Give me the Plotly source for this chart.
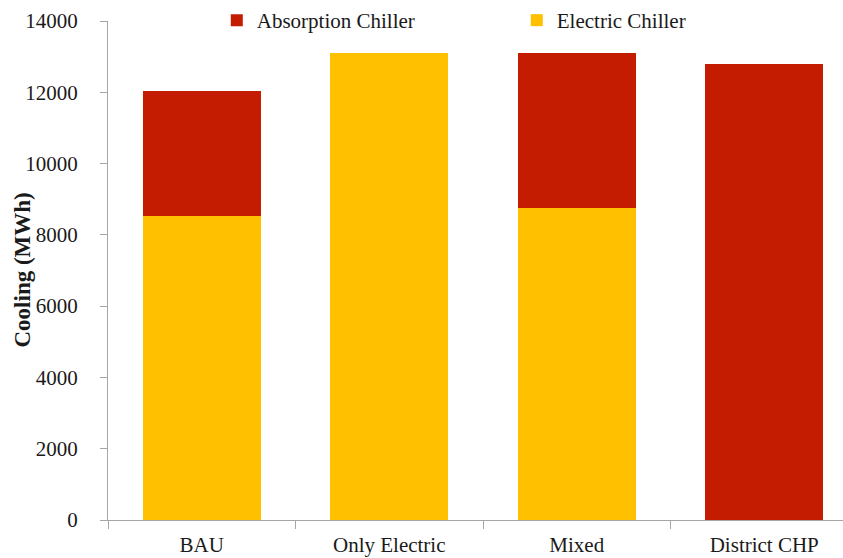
import plotly.graph_objects as go

# Annual cooling supplied per scenario (MWh)
scenarios = ["BAU", "Only Electric", "Mixed", "District CHP"]
electric_chiller = [8520, 13110, 8760, 0]
absorption_chiller = [3530, 0, 4350, 12790]

RED = "#C41C00"
YELLOW = "#FFC000"
AXIS_GREY = "#A6A6A6"
FONT = "Liberation Serif"
TEXT = "#1a1a1a"

fig = go.Figure()
fig.add_trace(go.Bar(
    x=scenarios, y=electric_chiller, name="Electric Chiller",
    marker=dict(color=YELLOW, line=dict(width=0)), width=0.63,
))
fig.add_trace(go.Bar(
    x=scenarios, y=absorption_chiller, name="Absorption Chiller",
    marker=dict(color=RED, line=dict(width=0)), width=0.63,
))

fig.update_layout(
    width=843, height=558,
    barmode="stack",
    plot_bgcolor="white", paper_bgcolor="white",
    margin=dict(l=108, r=0, t=20, b=38),
    font=dict(family=FONT, size=21, color=TEXT),
    showlegend=True,
    legend=dict(
        orientation="h", traceorder="reversed",
        x=0.148, xanchor="left", y=1.0, yanchor="middle",
        font=dict(family=FONT, size=21, color=TEXT),
        bgcolor="rgba(0,0,0,0)", entrywidth=255, itemwidth=30,
    ),
    xaxis=dict(
        range=[-0.5, 3.42],
        showline=True, linecolor=AXIS_GREY, linewidth=1,
        ticks="outside", tickson="boundaries", ticklen=8, tickcolor=AXIS_GREY,
        showgrid=False, zeroline=False, ticklabelstandoff=6,
        tickfont=dict(family=FONT, size=21, color=TEXT),
    ),
    yaxis=dict(
        range=[0, 14000], dtick=2000, tickformat="d",
        showline=True, linecolor=AXIS_GREY, linewidth=1,
        ticks="outside", ticklen=7, tickcolor=AXIS_GREY,
        showgrid=False, zeroline=False, ticklabelstandoff=18,
        tickfont=dict(family=FONT, size=21, color=TEXT),
    ),
    # y-axis title placed as a rotated label close to the tick numbers
    annotations=[dict(
        text="<b>Cooling (MWh)</b>", textangle=-90,
        xref="paper", yref="paper", x=-86 / 735, y=0.5,
        xanchor="center", yanchor="middle", showarrow=False,
        font=dict(family=FONT, size=23, color=TEXT),
    )],
)

fig.write_html("out.html")
